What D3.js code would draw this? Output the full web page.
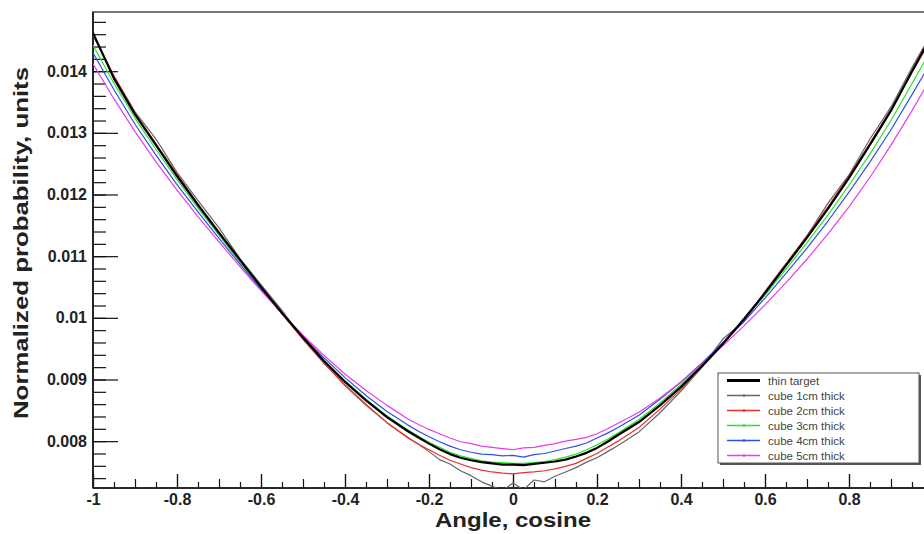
<!DOCTYPE html>
<html>
<head>
<meta charset="utf-8">
<script src="https://cdn.jsdelivr.net/npm/d3@7"></script>
<style>
    body { margin: 0; background: #fff; }
    svg { display: block; }
    text { font-family: "Liberation Sans", Arial, sans-serif; }
</style>
</head>
<body>
<script>
// angle cosine bins (finer in the middle)
var cosines = [-1, -0.95, -0.9, -0.85, -0.8, -0.75, -0.7, -0.65, -0.6, -0.55,
    -0.5, -0.45, -0.4, -0.35, -0.3, -0.25, -0.225, -0.2, -0.175, -0.15,
    -0.125, -0.1, -0.075, -0.05, -0.025, 0, 0.025, 0.05, 0.075, 0.1,
    0.125, 0.15, 0.175, 0.2, 0.225, 0.25, 0.3, 0.35, 0.4, 0.45,
    0.5, 0.55, 0.6, 0.65, 0.7, 0.75, 0.8, 0.85, 0.9, 0.95, 1];

var thinTarget = [0.01462, 0.01388, 0.01330, 0.01280, 0.01230, 0.01183,
    0.01138, 0.01094, 0.01050, 0.01008, 0.00968, 0.00930, 0.00896, 0.00866,
    0.00839, 0.00816, 0.00806, 0.00796, 0.00787, 0.00779, 0.00773, 0.00769,
    0.00766, 0.00764, 0.00762, 0.00762, 0.00761, 0.00763, 0.00765, 0.00767,
    0.00770, 0.00775, 0.00781, 0.00789, 0.00799, 0.00810, 0.00831, 0.00858,
    0.00888, 0.00922, 0.00958, 0.00998, 0.01040, 0.01085, 0.01130, 0.01177,
    0.01227, 0.01281, 0.01336, 0.01400, 0.01462];

var cube1cm = [0.01458, 0.01392, 0.01334, 0.01290, 0.01236, 0.01190,
    0.01146, 0.01096, 0.01054, 0.01012, 0.00966, 0.00927, 0.00890, 0.00858,
    0.00830, 0.00806, 0.00795, 0.00783, 0.00770, 0.00763, 0.00752, 0.00744,
    0.00734, 0.00727, 0.00720, 0.00732, 0.00721, 0.00737, 0.00734, 0.00743,
    0.00750, 0.00757, 0.00766, 0.00773, 0.00783, 0.00793, 0.00815, 0.00846,
    0.00881, 0.00920, 0.00966, 0.00994, 0.01043, 0.01088, 0.01133, 0.01186,
    0.01232, 0.01290, 0.01342, 0.01406, 0.01466];

var cube2cm = [0.01460, 0.01392, 0.01332, 0.01282, 0.01233, 0.01184,
    0.01138, 0.01093, 0.01049, 0.01006, 0.00965, 0.00926, 0.00891, 0.00860,
    0.00830, 0.00805, 0.00795, 0.00786, 0.00777, 0.00769, 0.00763, 0.00757,
    0.00753, 0.00750, 0.00748, 0.00747, 0.00749, 0.00750, 0.00752, 0.00755,
    0.00759, 0.00764, 0.00772, 0.00780, 0.00790, 0.00800, 0.00822, 0.00852,
    0.00884, 0.00920, 0.00957, 0.00998, 0.01042, 0.01087, 0.01133, 0.01180,
    0.01230, 0.01283, 0.01338, 0.01398, 0.01458];

var cube3cm = [0.01442, 0.01380, 0.01324, 0.01273, 0.01224, 0.01178,
    0.01134, 0.01090, 0.01048, 0.01007, 0.00968, 0.00931, 0.00898, 0.00868,
    0.00841, 0.00818, 0.00808, 0.00798, 0.00790, 0.00782, 0.00776, 0.00772,
    0.00768, 0.00766, 0.00765, 0.00764, 0.00764, 0.00765, 0.00767, 0.00770,
    0.00774, 0.00779, 0.00786, 0.00794, 0.00803, 0.00813, 0.00835, 0.00862,
    0.00892, 0.00925, 0.00960, 0.00997, 0.01037, 0.01079, 0.01122, 0.01167,
    0.01215, 0.01266, 0.01320, 0.01380, 0.01440];

var cube4cm = [0.01430, 0.01370, 0.01314, 0.01264, 0.01216, 0.01172,
    0.01129, 0.01087, 0.01046, 0.01007, 0.00970, 0.00935, 0.00903, 0.00874,
    0.00848, 0.00826, 0.00816, 0.00807, 0.00799, 0.00792, 0.00786, 0.00782,
    0.00779, 0.00778, 0.00776, 0.00777, 0.00774, 0.00778, 0.00780, 0.00784,
    0.00788, 0.00792, 0.00797, 0.00805, 0.00813, 0.00822, 0.00842, 0.00868,
    0.00896, 0.00927, 0.00960, 0.00994, 0.01032, 0.01072, 0.01113, 0.01157,
    0.01204, 0.01253, 0.01305, 0.01362, 0.01420];

var cube5cm = [0.01412, 0.01355, 0.01302, 0.01253, 0.01207, 0.01164,
    0.01123, 0.01083, 0.01044, 0.01007, 0.00972, 0.00939, 0.00909, 0.00882,
    0.00858, 0.00836, 0.00827, 0.00819, 0.00812, 0.00805, 0.00799, 0.00796,
    0.00792, 0.00790, 0.00788, 0.00786, 0.00789, 0.00790, 0.00793, 0.00796,
    0.00800, 0.00803, 0.00806, 0.00812, 0.00820, 0.00829, 0.00847, 0.00870,
    0.00896, 0.00925, 0.00955, 0.00987, 0.01021, 0.01057, 0.01095, 0.01136,
    0.01180, 0.01228, 0.01280, 0.01336, 0.01395];

var seriesNames = ["thin target", "cube 1cm thick", "cube 2cm thick",
    "cube 3cm thick", "cube 4cm thick", "cube 5cm thick"];
var seriesValues = [thinTarget, cube1cm, cube2cm, cube3cm, cube4cm, cube5cm];
var seriesColors = ["#000000", "#666666", "#e8302c", "#2ee02e", "#3050e0",
    "#e83ce8"];

// the label at 1 falls outside the window, as in the picture
var xTicks = [-1, -0.8, -0.6, -0.4, -0.2, 0, 0.2, 0.4, 0.6, 0.8];
var xTickLabels = ["-1", "-0.8", "-0.6", "-0.4", "-0.2", "0", "0.2", "0.4",
    "0.6", "0.8"];
var yTicks = [0.008, 0.009, 0.01, 0.011, 0.012, 0.013, 0.014];
var yTickLabels = ["0.008", "0.009", "0.01", "0.011", "0.012", "0.013",
    "0.014"];

// frame runs off the right edge of the window, like the picture
var margin = {top: 12, left: 93},
    width = 840,
    height = 476;

var svg = d3.select("body").append("svg")
    .attr("width", 924)
    .attr("height", 534);

var g = svg.append("g")
    .attr("transform", "translate(" + margin.left + "," + margin.top + ")");

var xScale = d3.scaleLinear().domain([-1, 1]).range([0, width]);
var yScale = d3.scaleLinear().domain([0.00724, 0.01496]).range([height, 0]);

g.append("clipPath").attr("id", "plotArea")
    .append("rect")
    .attr("width", width)
    .attr("height", height);

// ---- x axis: three tick levels pointing inwards
function xAxisLevel(values, size, labels) {
    var ax = d3.axisBottom(xScale)
        .tickValues(values)
        .tickSizeInner(-size)
        .tickSizeOuter(0)
        .tickPadding(6)
        .tickFormat(labels ? function(d, i) { return labels[i]; } : "");
    var sel = g.append("g")
        .attr("transform", "translate(0," + height + ")")
        .call(ax);
    sel.select(".domain").remove();
    sel.selectAll("line").attr("stroke", "#111").attr("stroke-width", 1.2);
    return sel;
}
xAxisLevel(d3.range(-0.95, 1, 0.1), 6);
xAxisLevel(d3.range(-0.9, 1, 0.2), 9);
xAxisLevel(d3.range(-1, 1.01, 0.2), 14);
xAxisLevel(xTicks, 14, xTickLabels)
    .selectAll("text")
    .attr("fill", "#222")
    .attr("font-size", "16px")
    .attr("font-weight", "bold");

// ---- y axis: major ticks each 0.001, minor each 0.0002
function yAxisLevel(values, size, labels) {
    var ax = d3.axisLeft(yScale)
        .tickValues(values)
        .tickSizeInner(-size)
        .tickSizeOuter(0)
        .tickPadding(6)
        .tickFormat(labels ? function(d, i) { return labels[i]; } : "");
    var sel = g.append("g").call(ax);
    sel.select(".domain").remove();
    sel.selectAll("line").attr("stroke", "#111").attr("stroke-width", 1.2);
    return sel;
}
yAxisLevel(d3.range(37, 75).map(function(k) { return k * 0.0002; }), 13);
var yMajor = yAxisLevel(yTicks, 25, yTickLabels);
yMajor.selectAll("text")
    .attr("x", -6)
    .attr("fill", "#222")
    .attr("font-size", "16px")
    .attr("font-weight", "bold");

// frame
g.append("rect")
    .attr("width", width)
    .attr("height", height)
    .attr("fill", "none")
    .attr("stroke", "#555")
    .attr("stroke-width", 1.6);
g.append("line")
    .attr("x1", 0).attr("x2", width)
    .attr("y1", height).attr("y2", height)
    .attr("stroke", "#111").attr("stroke-width", 1.6);
g.append("line")
    .attr("x1", 0).attr("x2", 0)
    .attr("y1", 0).attr("y2", height)
    .attr("stroke", "#111").attr("stroke-width", 1.6);

// ---- curves
var line = d3.line()
    .x(function(d) { return xScale(d[0]); })
    .y(function(d) { return yScale(d[1]); });

var curves = g.append("g").attr("clip-path", "url(#plotArea)");
// draw thin ones first, the black reference on top
[1, 2, 3, 4, 5, 0].forEach(function(s) {
    var pts = cosines.map(function(c, i) { return [c, seriesValues[s][i]]; });
    curves.append("path")
        .datum(pts)
        .attr("d", line)
        .attr("fill", "none")
        .attr("stroke", seriesColors[s])
        .attr("stroke-width", s === 0 ? 2.2 : 1.2)
        .attr("stroke-linejoin", "round");
});

// ---- legend
var legend = svg.append("g").attr("transform", "translate(718,373)");
legend.append("rect")
    .attr("x", 2).attr("y", 2)
    .attr("width", 201).attr("height", 90)
    .attr("fill", "#555");
legend.append("rect")
    .attr("width", 201).attr("height", 90)
    .attr("fill", "#fff")
    .attr("stroke", "#555")
    .attr("stroke-width", 1);

var rows = legend.selectAll("g.row")
    .data(seriesNames)
    .enter()
    .append("g")
    .attr("class", "row")
    .attr("transform", function(d, i) {
        return "translate(0," + (7.5 + i * 15) + ")";
    });
rows.append("line")
    .attr("x1", 9).attr("x2", 42)
    .attr("stroke", function(d, i) { return seriesColors[i]; })
    .attr("stroke-width", function(d, i) { return i === 0 ? 3 : 1.3; });
rows.filter(function(d, i) { return i > 0; })
    .append("circle")
    .attr("cx", 26).attr("r", 1.3)
    .attr("fill", function(d, i) { return seriesColors[i + 1]; });
rows.append("text")
    .attr("x", 50)
    .attr("dy", "0.35em")
    .attr("font-size", "11.5px")
    .attr("fill", "#444")
    .text(function(d) { return d; });

// ---- axis titles (the picture's lettering is a little stretched)
svg.append("text")
    .attr("x", 513)
    .attr("y", 527)
    .attr("text-anchor", "middle")
    .attr("font-size", "21px")
    .attr("font-weight", "bold")
    .attr("fill", "#222")
    .attr("textLength", 156)
    .attr("lengthAdjust", "spacingAndGlyphs")
    .text("Angle, cosine");

svg.append("text")
    .attr("transform", "translate(28,243) rotate(-90)")
    .attr("text-anchor", "middle")
    .attr("font-size", "21px")
    .attr("font-weight", "bold")
    .attr("fill", "#222")
    .attr("textLength", 352)
    .attr("lengthAdjust", "spacingAndGlyphs")
    .text("Normalized probability, units");
</script>
</body>
</html>
